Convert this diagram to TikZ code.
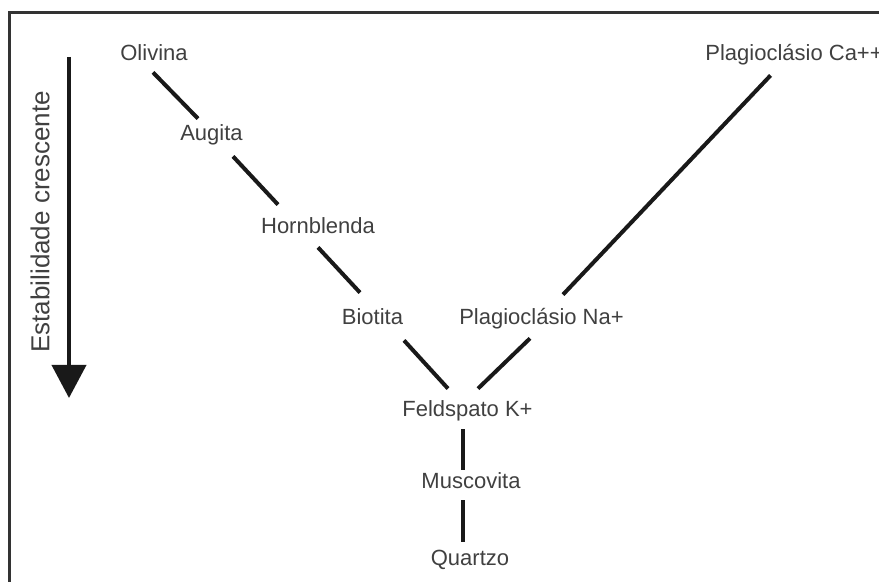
\documentclass[tikz,border=0pt]{standalone}
\usepackage{fontspec}
\setmainfont{Liberation Sans}
\usetikzlibrary{arrows.meta,calc}

\begin{document}
\begin{tikzpicture}[
    x=0.5pt, y=-0.5pt,
    mineral/.style={inner sep=0pt, text height=8pt, text depth=2.5pt, text=black!75, font=\fontsize{11pt}{13pt}\selectfont, anchor=base},
    link/.style={line width=2pt, draw=black!90},
    frame/.style={line width=1.25pt, draw=black!80}
]
\useasboundingbox (0,0) rectangle (879,582);
\clip (0,0) rectangle (879,582);
\draw[frame] (9.5,12.5) rectangle (900,600);

% stability arrow
\coordinate (top) at (69,57);
\coordinate (tip) at (69,398);
\draw[link, -{Triangle[length=16.5pt, width=17pt]}] (top) -- (tip);
\node[rotate=90, text=black!75, font=\fontsize{13pt}{15pt}\selectfont] (stab) at (40,222) {Estabilidade crescente};

% minerals
\node[mineral] (olivina) at (154,61) {Olivina};
\node[mineral] (augita) at (211.5,141) {Augita};
\node[mineral] (hornblenda) at (318,234) {Hornblenda};
\node[mineral] (biotita) at (372.5,325) {Biotita};
\node[mineral] (plagna) at (541.5,325) {Plagioclásio Na+};
\node[mineral, anchor=base west] (plagca) at (705,61) {Plagioclásio Ca++};
\node[mineral] (feldspato) at (467.5,417) {Feldspato K+};
\node[mineral] (muscovita) at (471,489) {Muscovita};
\node[mineral] (quartzo) at (470,566) {Quartzo};

% connectors
\foreach \a/\da/\b/\db in {olivina/{-1,6}/augita/{-13.5,-6},
    augita/{21.5,10}/hornblenda/{-40,-13},
    hornblenda/{0,8}/biotita/{-12.5,-16},
    biotita/{31.5,10}/feldspato/{-19.5,-12},
    plagca/{-23.5,9}/plagna/{21.5,-14},
    plagna/{-11.5,8}/feldspato/{10.5,-12},
    feldspato/{-4.5,7}/muscovita/{-8,-3},
    muscovita/{-8,6}/quartzo/{-7,-8}}
  \draw[link] ([shift={(\da)}]\a.south) -- ([shift={(\db)}]\b.north);
\end{tikzpicture}
\end{document}
